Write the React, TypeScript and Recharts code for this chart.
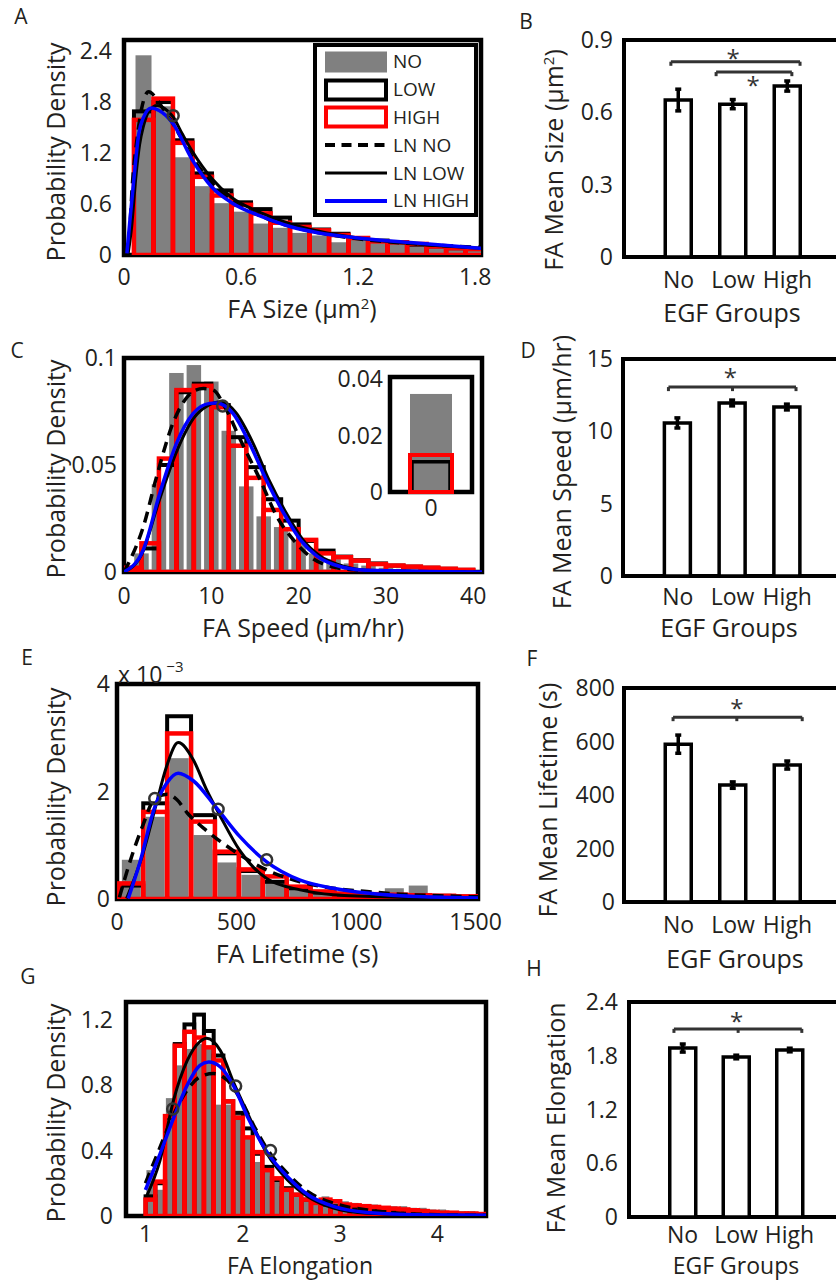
import React from "react";
import {
  ComposedChart,
  Bar,
  Line,
  Scatter,
  XAxis,
  YAxis,
  ReferenceArea,
  ReferenceLine,
  ReferenceDot,
  ErrorBar,
} from "recharts";

const FONT = "'Open Sans', 'Noto Sans', sans-serif";
const INK = "#231f20";
const GRAY = "#808080";
const RED = "#ff0000";
const BLUE = "#0000ff";
const RING = "#333333";

// ---------- A: FA size (µm²), bins of 0.1 ----------
const aBins = [0.1, 0.2, 0.3, 0.4, 0.5, 0.6, 0.7, 0.8, 0.9, 1.0, 1.1, 1.2, 1.3, 1.4, 1.5, 1.6, 1.7, 1.8];
const aNo = [2.35, 1.75, 1.15, 0.81, 0.61, 0.51, 0.37, 0.32, 0.26, 0.23, 0.15, 0.18, 0.14, 0.13, 0.1, 0.08, 0.07, 0.06];
const aLow = [1.69, 1.8, 1.35, 0.96, 0.76, 0.62, 0.54, 0.44, 0.36, 0.3, 0.25, 0.2, 0.17, 0.15, 0.12, 0.1, 0.08, 0.07];
const aHigh = [1.59, 1.84, 1.32, 0.92, 0.7, 0.59, 0.49, 0.38, 0.33, 0.29, 0.235, 0.2, 0.16, 0.15, 0.13, 0.1, 0.08, 0.07];
const aLnNoX = [0.012, 0.026, 0.043, 0.068, 0.09, 0.126, 0.16, 0.2, 0.25, 0.3, 0.35, 0.45, 0.55, 0.7, 0.85, 1.0, 1.2, 1.5, 1.83];
const aLnNoY = [0, 0.18, 0.84, 1.39, 1.72, 1.92, 1.86, 1.72, 1.55, 1.35, 1.15, 0.85, 0.64, 0.46, 0.34, 0.26, 0.19, 0.13, 0.09];
const aLnLowX = [0.02, 0.04, 0.06, 0.08, 0.1, 0.13, 0.17, 0.21, 0.25, 0.3, 0.35, 0.45, 0.55, 0.7, 0.85, 1.0, 1.2, 1.5, 1.83];
const aLnLowY = [0, 0.35, 0.9, 1.3, 1.52, 1.7, 1.76, 1.72, 1.63, 1.42, 1.22, 0.9, 0.68, 0.5, 0.37, 0.28, 0.2, 0.13, 0.08];
const aLnHighX = [0.015, 0.03, 0.05, 0.076, 0.1, 0.14, 0.18, 0.25, 0.35, 0.45, 0.556, 0.71, 0.86, 1.0, 1.2, 1.5, 1.83];
const aLnHighY = [0.02, 0.4, 0.88, 1.43, 1.62, 1.73, 1.7, 1.55, 1.12, 0.8, 0.61, 0.45, 0.33, 0.26, 0.2, 0.14, 0.08];
const aRingX = [0.252];
const aRingY = [1.64];

// ---------- C: FA speed (µm/hr), bins of 2 ----------
const cBinsEven = [2, 4, 6, 8, 10, 12, 14, 16, 18, 20, 22, 24, 26, 28, 30, 32, 34, 36, 38, 40];
const cNo = [0.0087, 0.041, 0.093, 0.0967, 0.089, 0.066, 0.04, 0.026, 0.021, 0.015, 0.0087, 0.006, 0.004, 0.003, 0.002, 0.0015, 0.001, 0.001, 0.0008, 0.0005];
const cBinsOdd = [1, 3, 5, 7, 9, 11, 13, 15, 17, 19, 21, 23, 25, 27, 29, 31, 33, 35, 37, 39];
const cLow = [0.001, 0.011, 0.05, 0.084, 0.088, 0.078, 0.063, 0.049, 0.034, 0.024, 0.0145, 0.01, 0.0072, 0.0055, 0.004, 0.003, 0.0025, 0.002, 0.0015, 0.001];
const cHigh = [0.002, 0.0134, 0.053, 0.085, 0.087, 0.077, 0.059, 0.044, 0.029, 0.02, 0.015, 0.0087, 0.0069, 0.0053, 0.0037, 0.003, 0.0025, 0.002, 0.0015, 0.001];
const cLnNoX = [0, 0.7, 2.2, 3.7, 5.6, 7.1, 8.2, 9.1, 10.2, 11.7, 13.3, 15.6, 17.5, 19.4, 21.7, 24, 26.3, 30, 41];
const cLnNoY = [0, 0.0056, 0.021, 0.044, 0.0695, 0.0811, 0.085, 0.0857, 0.085, 0.076, 0.062, 0.043, 0.026, 0.015, 0.0061, 0.0023, 0.001, 0.0002, 0];
const cLnLowX = [0, 2, 4, 6, 8, 9.5, 11.2, 12.8, 14.8, 16.6, 18.6, 20.5, 22.5, 24.5, 28, 41];
const cLnLowY = [0, 0.008, 0.033, 0.056, 0.072, 0.0775, 0.0795, 0.0745, 0.06, 0.043, 0.0274, 0.015, 0.0074, 0.0035, 0.0008, 0];
const cLnHighX = [0, 2.2, 4.1, 6.0, 7.9, 9.8, 10.6, 12.5, 14.4, 16.3, 18.3, 20.2, 22.1, 24, 27.8, 41];
const cLnHighY = [0, 0.0103, 0.0368, 0.06, 0.074, 0.0788, 0.079, 0.074, 0.06, 0.043, 0.0274, 0.015, 0.0074, 0.0035, 0.0008, 0];
const cRingX = [11.3];
const cRingY = [0.0776];
// inset: speed = 0
const insetBin = [0];
const insetNo = [0.0347];
const insetLow = [0.0107];
const insetHigh = [0.0131];

// ---------- E: FA lifetime (s), bins of 100, density x 10^-3 ----------
const eBins = [60, 160, 260, 360, 460, 560, 660, 760, 860, 960, 1060, 1160, 1260, 1360, 1460];
const eNo = [0.73, 1.53, 2.62, 1.19, 0.68, 0.45, 0.32, 0.2, 0.17, 0.14, 0.12, 0.2, 0.25, 0.1, 0.07];
const eLow = [0.25, 1.78, 3.4, 1.56, 0.85, 0.52, 0.32, 0.2, 0.12, 0.08, 0.07, 0.06, 0.05, 0.04, 0.03];
const eHigh = [0.29, 1.62, 3.08, 1.44, 0.88, 0.55, 0.42, 0.23, 0.14, 0.1, 0.09, 0.08, 0.07, 0.06, 0.05];
const eLnNoX = [10, 62, 109, 158, 210, 250, 294, 375, 484, 626, 766, 905, 1045, 1185, 1350, 1510];
const eLnNoY = [0.03, 0.8, 1.38, 1.87, 1.95, 1.85, 1.6, 1.27, 0.91, 0.54, 0.32, 0.2, 0.14, 0.09, 0.06, 0.04];
const eLnLowX = [40, 109, 165, 207, 256, 319, 375, 431, 514, 626, 766, 905, 1200, 1510];
const eLnLowY = [0.01, 0.85, 1.78, 2.46, 2.91, 2.59, 2.03, 1.55, 0.9, 0.38, 0.17, 0.08, 0.03, 0.01];
const eLnHighX = [47, 95, 158, 207, 256, 319, 417, 514, 626, 766, 905, 1045, 1185, 1510];
const eLnHighY = [0.01, 0.67, 1.71, 2.15, 2.34, 2.2, 1.69, 1.16, 0.69, 0.35, 0.2, 0.11, 0.06, 0.02];
const eRingX = [158, 423, 626];
const eRingY = [1.87, 1.67, 0.73];

// ---------- G: FA elongation, bins of 0.1 ----------
const gBins = [1.05, 1.15, 1.25, 1.35, 1.45, 1.55, 1.65, 1.75, 1.85, 1.95, 2.05, 2.15, 2.25, 2.35, 2.45, 2.55, 2.65, 2.75, 2.85, 2.95, 3.05, 3.15, 3.25, 3.35, 3.45, 3.55, 3.65, 3.75, 3.85, 3.95, 4.05, 4.15, 4.25, 4.35, 4.45];
const gNo = [0.28, 0.16, 0.72, 0.92, 1.02, 1.05, 1.03, 0.68, 0.68, 0.62, 0.49, 0.33, 0.27, 0.22, 0.17, 0.13, 0.11, 0.09, 0.12, 0.1, 0.09, 0.08, 0.07, 0.07, 0.06, 0.06, 0.06, 0.05, 0.05, 0.04, 0.04, 0.03, 0.03, 0.03, 0.02];
const gLow = [0.12, 0.2, 0.6, 1.05, 1.17, 1.23, 1.13, 0.98, 0.7, 0.63, 0.535, 0.38, 0.3, 0.22, 0.17, 0.13, 0.1, 0.08, 0.07, 0.06, 0.05, 0.045, 0.04, 0.035, 0.03, 0.025, 0.02, 0.02, 0.015, 0.015, 0.01, 0.01, 0.01, 0.008, 0.006];
const gHigh = [0.1, 0.21, 0.61, 1.04, 1.125, 1.09, 1.03, 0.95, 0.7, 0.6, 0.48, 0.39, 0.28, 0.23, 0.16, 0.13, 0.1, 0.08, 0.1, 0.09, 0.07, 0.065, 0.06, 0.055, 0.05, 0.045, 0.04, 0.035, 0.03, 0.025, 0.02, 0.02, 0.015, 0.015, 0.012];
const gLnNoX = [1.0, 1.15, 1.29, 1.43, 1.56, 1.7, 1.84, 1.98, 2.12, 2.25, 2.46, 2.67, 2.94, 3.28, 3.63, 4.0, 4.5];
const gLnNoY = [0.2, 0.42, 0.62, 0.77, 0.85, 0.87, 0.83, 0.71, 0.545, 0.41, 0.26, 0.148, 0.077, 0.037, 0.016, 0.008, 0.004];
const gLnLowX = [1.01, 1.15, 1.29, 1.43, 1.56, 1.63, 1.77, 1.91, 2.05, 2.25, 2.46, 2.67, 2.94, 3.28, 3.97, 4.5];
const gLnLowY = [0.118, 0.34, 0.71, 0.95, 1.065, 1.085, 1.01, 0.81, 0.627, 0.38, 0.22, 0.118, 0.047, 0.017, 0.006, 0.004];
const gLnHighX = [1.0, 1.15, 1.29, 1.43, 1.56, 1.65, 1.77, 1.91, 2.05, 2.25, 2.46, 2.67, 2.94, 3.28, 3.97, 4.5];
const gLnHighY = [0.16, 0.38, 0.6, 0.8, 0.92, 0.94, 0.91, 0.79, 0.605, 0.39, 0.24, 0.13, 0.057, 0.022, 0.006, 0.004];
const gRingX = [1.28, 1.927, 2.285];
const gRingY = [0.653, 0.794, 0.4];

// ---------- B/D/F/H: means per EGF group ----------
const egfGroups = ["No", "Low", "High"];
const egfX = [1, 2, 3];
const sizeMean = [0.651, 0.634, 0.709];
const sizeErr = [0.045, 0.019, 0.021];
const speedMean = [10.58, 11.96, 11.68];
const speedErr = [0.35, 0.2, 0.2];
const lifeMean = [590, 437, 512];
const lifeErr = [34, 12, 15];
const elongMean = [1.886, 1.786, 1.864];
const elongErr = [0.045, 0.02, 0.02];
// significance brackets: [from, to, height, middle tick (or null)] and stars [x, y]
const sizeBrackets: [number, number, number, number | null][] = [[0.86, 3.23, 0.81, null], [1.69, 3.08, 0.767, null]];
const sizeStars = [[2.0, 0.825], [2.37, 0.713]];
const speedBrackets: [number, number, number, number | null][] = [[0.83, 3.16, 13.06, 2.0]];
const speedStars = [[1.96, 13.69]];
const lifeBrackets: [number, number, number, number | null][] = [[0.9, 3.27, 691, 2.07]];
const lifeStars = [[2.07, 725]];
const elongBrackets: [number, number, number, number | null][] = [[0.84, 3.23, 2.1, 2.04]];
const elongStars = [[2.01, 2.18]];

const legendNames = ["NO", "LOW", "HIGH", "LN NO", "LN LOW", "LN HIGH"];

type Box = { x1: number; y1: number; x2: number; y2: number };
type Pt = { x: number; y: number };

const pts = (xs: number[], ys: number[]): Pt[] => xs.map((x, i) => ({ x, y: ys[i] }));
const tickStyle = { fontSize: 23, fill: INK, fontFamily: FONT };

// bar drawn centred on its bin with a fixed pixel width
function binShape(w: number, fill: string, stroke: string, sw: number) {
  return (p: any) => {
    if (!(p.height > 0)) return <g />;
    const cx = p.x + p.width / 2;
    return <rect x={cx - w / 2} y={p.y} width={w} height={p.height} fill={fill} stroke={stroke} strokeWidth={sw} />;
  };
}

const ring = (p: any) => <circle cx={p.cx} cy={p.cy} r={5.5} fill="none" stroke={RING} strokeWidth={2.5} />;

function Hist(props: {
  box: Box;
  yGap: number;
  xGap: number;
  xDomain: [number, number];
  xTicks: number[];
  yDomain: [number, number];
  yTicks: number[];
  rows: any[];
  bin: number;
  grayW: number;
  noFit: Pt[];
  lowFit: Pt[];
  highFit: Pt[];
  rings: Pt[];
}) {
  const { box, yGap, xGap, xDomain, xTicks, yDomain, yTicks, rows, bin, grayW, noFit, lowFit, highFit, rings } = props;
  const padL = 70, padT = 22, padR = 34, padB = 46;
  const plotW = box.x2 - box.x1;
  const binW = (bin * plotW) / (xDomain[1] - xDomain[0]);
  return (
    <div style={{ position: "absolute", left: box.x1 - padL, top: box.y1 - padT }}>
      <ComposedChart
        width={plotW + padL + padR}
        height={box.y2 - box.y1 + padT + padB}
        data={rows}
        margin={{ top: padT, right: padR, bottom: 0, left: 0 }}
      >
        <XAxis xAxisId="no" type="number" dataKey="x" domain={xDomain} allowDataOverflow ticks={xTicks} interval={0}
          height={padB} tickLine={false} axisLine={false} tickSize={0} tickMargin={xGap} tick={tickStyle} />
        <XAxis xAxisId="low" type="number" dataKey="x" domain={xDomain} allowDataOverflow hide height={0} />
        <XAxis xAxisId="high" type="number" dataKey="x" domain={xDomain} allowDataOverflow hide height={0} />
        <YAxis type="number" domain={yDomain} allowDataOverflow ticks={yTicks} interval={0} width={padL}
          tickLine={false} axisLine={false} tickSize={0} tickMargin={yGap} tick={tickStyle} />
        <Bar xAxisId="no" dataKey="no" isAnimationActive={false} shape={binShape(grayW, GRAY, "none", 0)} />
        <Bar xAxisId="low" dataKey="low" isAnimationActive={false} shape={binShape(binW, "none", "#000", 4)} />
        <Bar xAxisId="high" dataKey="high" isAnimationActive={false} shape={binShape(binW, "none", RED, 4.5)} />
        <Line xAxisId="no" data={noFit} dataKey="y" type="monotone" stroke="#000" strokeWidth={3.5}
          strokeDasharray="11 7" dot={false} isAnimationActive={false} />
        <Line xAxisId="no" data={lowFit} dataKey="y" type="monotone" stroke="#000" strokeWidth={3}
          dot={false} isAnimationActive={false} />
        <Line xAxisId="no" data={highFit} dataKey="y" type="monotone" stroke={BLUE} strokeWidth={3.5}
          dot={false} isAnimationActive={false} />
        <Scatter xAxisId="no" data={rings} dataKey="y" isAnimationActive={false} shape={ring} />
        <ReferenceArea xAxisId="no" x1={xDomain[0]} x2={xDomain[1]} y1={yDomain[0]} y2={yDomain[1]}
          fill="none" stroke="#000" strokeWidth={4.5} />
      </ComposedChart>
    </div>
  );
}

function MeanBars(props: {
  box: Box;
  yGap: number;
  xGap: number;
  yDomain: [number, number];
  yTicks: number[];
  means: number[];
  errs: number[];
  brackets: [number, number, number, number | null][];
  stars: number[][];
  tickLen: number;
}) {
  const { box, yGap, xGap, yDomain, yTicks, means, errs, brackets, stars, tickLen } = props;
  const padL = 70, padT = 22, padR = 6, padB = 46;
  const rows = egfX.map((x, i) => ({ x, mean: means[i], err: errs[i] }));
  const segs: { a: Pt; b: Pt }[] = [];
  brackets.forEach(([x1, x2, y, mid]) => {
    segs.push({ a: { x: x1, y }, b: { x: x2, y } });
    segs.push({ a: { x: x1, y }, b: { x: x1, y: y - tickLen } });
    segs.push({ a: { x: x2, y }, b: { x: x2, y: y - tickLen } });
    if (mid !== null) segs.push({ a: { x: mid, y }, b: { x: mid, y: y - tickLen } });
  });
  return (
    <div style={{ position: "absolute", left: box.x1 - padL, top: box.y1 - padT }}>
      <ComposedChart
        width={box.x2 - box.x1 + padL + padR}
        height={box.y2 - box.y1 + padT + padB}
        data={rows}
        margin={{ top: padT, right: padR, bottom: 0, left: 0 }}
      >
        <XAxis type="number" dataKey="x" domain={[0, 4]} ticks={egfX} interval={0}
          tickFormatter={(v: number) => egfGroups[v - 1]} height={padB} tickLine={false} axisLine={false}
          tickSize={0} tickMargin={xGap} tick={tickStyle} />
        <YAxis type="number" domain={yDomain} ticks={yTicks} interval={0} width={padL} tickLine={false}
          axisLine={false} tickSize={0} tickMargin={yGap} tick={tickStyle} />
        <Bar dataKey="mean" barSize={26} fill="#fff" stroke="#000" strokeWidth={3.5} isAnimationActive={false}>
          <ErrorBar dataKey="err" width={3} strokeWidth={3.5} stroke="#000" direction="y" />
        </Bar>
        {segs.map((s, i) => (
          <ReferenceLine key={i} segment={[s.a, s.b]} stroke={RING} strokeWidth={3} ifOverflow="visible" />
        ))}
        {stars.map(([x, y], i) => (
          <ReferenceDot key={"s" + i} x={x} y={y} r={0} fill="none" stroke="none" ifOverflow="visible"
            label={{ value: "*", position: "center", fontSize: 24, fill: RING, fontFamily: FONT }} />
        ))}
        <ReferenceArea x1={0} x2={4} y1={yDomain[0]} y2={yDomain[1]} fill="none" stroke="#000" strokeWidth={4} />
      </ComposedChart>
    </div>
  );
}

function Inset() {
  const box = { x1: 390, y1: 377, x2: 472, y2: 492 };
  const padL = 60, padT = 18, padR = 6, padB = 36;
  const rows = insetBin.map((x, i) => ({ x, no: insetNo[i], low: insetLow[i], high: insetHigh[i] }));
  const dom: [number, number] = [-1, 1];
  return (
    <div style={{ position: "absolute", left: box.x1 - padL, top: box.y1 - padT }}>
      <ComposedChart width={box.x2 - box.x1 + padL + padR} height={box.y2 - box.y1 + padT + padB} data={rows}
        margin={{ top: padT, right: padR, bottom: 0, left: 0 }}>
        <XAxis xAxisId="no" type="number" dataKey="x" domain={dom} ticks={insetBin} interval={0} height={padB}
          tickLine={false} axisLine={false} tickSize={0} tickMargin={8} tick={tickStyle} />
        <XAxis xAxisId="low" type="number" dataKey="x" domain={dom} hide height={0} />
        <XAxis xAxisId="high" type="number" dataKey="x" domain={dom} hide height={0} />
        <YAxis type="number" domain={[0, 0.0407]} ticks={[0, 0.02, 0.04]} interval={0} width={padL}
          tickLine={false} axisLine={false} tickSize={0} tickMargin={7} tick={tickStyle} />
        <Bar xAxisId="no" dataKey="no" isAnimationActive={false} shape={binShape(42, GRAY, "none", 0)} />
        <Bar xAxisId="low" dataKey="low" isAnimationActive={false} shape={binShape(38, "none", "#000", 3.5)} />
        <Bar xAxisId="high" dataKey="high" isAnimationActive={false} shape={binShape(42, "none", RED, 4)} />
        <ReferenceArea xAxisId="no" x1={-1} x2={1} y1={0} y2={0.0407} fill="none" stroke="#000" strokeWidth={4.5} />
      </ComposedChart>
    </div>
  );
}

function LegendA() {
  const swatch = (i: number) => {
    if (i === 0) return <rect x={1} y={1.5} width={62} height={21} fill={GRAY} />;
    if (i === 1) return <rect x={2} y={2.5} width={60} height={19} fill="none" stroke="#000" strokeWidth={4} />;
    if (i === 2) return <rect x={2} y={2.5} width={60} height={19} fill="none" stroke={RED} strokeWidth={4} />;
    if (i === 3) return <line x1={1} x2={63} y1={12} y2={12} stroke="#000" strokeWidth={4} strokeDasharray="10 6.5" />;
    if (i === 4) return <line x1={1} x2={63} y1={12} y2={12} stroke="#000" strokeWidth={3} />;
    return <line x1={1} x2={63} y1={12} y2={12} stroke={BLUE} strokeWidth={4} />;
  };
  return (
    <div style={{ position: "absolute", left: 313, top: 43, width: 165, height: 174, boxSizing: "border-box",
      border: "4px solid #000", background: "#fff" }}>
      {legendNames.map((n, i) => (
        <div key={n} style={{ position: "absolute", left: 7, top: 1 + i * 27.8, height: 27.8, display: "flex",
          alignItems: "center" }}>
          <svg width={64} height={24}>{swatch(i)}</svg>
          <span style={{ marginLeft: 5, fontSize: 19, lineHeight: 1, whiteSpace: "nowrap" }}>{n}</span>
        </div>
      ))}
    </div>
  );
}

function Txt({ x, y, size = 25, rot = false, children }: { x: number; y: number; size?: number; rot?: boolean; children: any }) {
  return (
    <div style={{ position: "absolute", left: x, top: y, transform: `translate(-50%, -50%)${rot ? " rotate(-90deg)" : ""}`,
      fontSize: size, lineHeight: 1, whiteSpace: "nowrap", color: INK, fontFamily: FONT }}>
      {children}
    </div>
  );
}

const sup = (s: string) => <span style={{ fontSize: "0.6em", position: "relative", top: "-0.6em" }}>{s}</span>;

export default function App() {
  const aRows = aBins.map((x, i) => ({ x, no: aNo[i], low: aLow[i], high: aHigh[i] }));
  const cRows = [
    ...cBinsEven.map((x, i) => ({ x, no: cNo[i] })),
    ...cBinsOdd.map((x, i) => ({ x, low: cLow[i], high: cHigh[i] })),
  ].sort((p, q) => p.x - q.x);
  const eRows = eBins.map((x, i) => ({ x, no: eNo[i], low: eLow[i], high: eHigh[i] }));
  const gRows = gBins.map((x, i) => ({ x, no: gNo[i], low: gLow[i], high: gHigh[i] }));

  return (
    <div style={{ position: "absolute", left: 0, top: 0, width: 836, height: 1283, overflow: "hidden",
      background: "#fff", fontFamily: FONT, color: INK }}>
      <Hist box={{ x1: 124, y1: 40, x2: 481, y2: 255 }} yGap={12} xGap={14} xDomain={[0, 1.83]}
        xTicks={[0, 0.6, 1.2, 1.8]} yDomain={[0, 2.53]} yTicks={[0, 0.6, 1.2, 1.8, 2.4]} rows={aRows} bin={0.1}
        grayW={16} noFit={pts(aLnNoX, aLnNoY)} lowFit={pts(aLnLowX, aLnLowY)} highFit={pts(aLnHighX, aLnHighY)}
        rings={pts(aRingX, aRingY)} />
      <LegendA />
      <Hist box={{ x1: 124, y1: 358, x2: 482, y2: 572 }} yGap={7} xGap={16} xDomain={[0, 41]}
        xTicks={[0, 10, 20, 30, 40]} yDomain={[0, 0.1]} yTicks={[0, 0.05, 0.1]} rows={cRows} bin={2}
        grayW={14.5} noFit={pts(cLnNoX, cLnNoY)} lowFit={pts(cLnLowX, cLnLowY)} highFit={pts(cLnHighX, cLnHighY)}
        rings={pts(cRingX, cRingY)} />
      <Inset />
      <Hist box={{ x1: 117, y1: 684, x2: 478, y2: 899 }} yGap={7} xGap={15} xDomain={[0, 1510]}
        xTicks={[0, 500, 1000, 1500]} yDomain={[0, 4]} yTicks={[0, 2, 4]} rows={eRows} bin={100}
        grayW={19} noFit={pts(eLnNoX, eLnNoY)} lowFit={pts(eLnLowX, eLnLowY)} highFit={pts(eLnHighX, eLnHighY)}
        rings={pts(eRingX, eRingY)} />
      <Hist box={{ x1: 126, y1: 1002, x2: 486, y2: 1216 }} yGap={13} xGap={10} xDomain={[0.8, 4.5]}
        xTicks={[1, 2, 3, 4]} yDomain={[0, 1.307]} yTicks={[0, 0.4, 0.8, 1.2]} rows={gRows} bin={0.1}
        grayW={7.8} noFit={pts(gLnNoX, gLnNoY)} lowFit={pts(gLnLowX, gLnLowY)} highFit={pts(gLnHighX, gLnHighY)}
        rings={pts(gRingX, gRingY)} />

      <MeanBars box={{ x1: 624, y1: 40, x2: 842, y2: 257 }} yGap={11} xGap={15} yDomain={[0, 0.9]}
        yTicks={[0, 0.3, 0.6, 0.9]} means={sizeMean} errs={sizeErr} brackets={sizeBrackets} stars={sizeStars} tickLen={0.017} />
      <MeanBars box={{ x1: 623, y1: 359, x2: 842, y2: 576 }} yGap={10} xGap={13} yDomain={[0, 15]}
        yTicks={[0, 5, 10, 15]} means={speedMean} errs={speedErr} brackets={speedBrackets} stars={speedStars} tickLen={0.28} />
      <MeanBars box={{ x1: 624, y1: 688, x2: 842, y2: 902 }} yGap={9} xGap={15} yDomain={[0, 800]}
        yTicks={[0, 200, 400, 600, 800]} means={lifeMean} errs={lifeErr} brackets={lifeBrackets} stars={lifeStars} tickLen={15} />
      <MeanBars box={{ x1: 629, y1: 1002, x2: 843, y2: 1217 }} yGap={11} xGap={10} yDomain={[0, 2.4]}
        yTicks={[0, 0.6, 1.2, 1.8, 2.4]} means={elongMean} errs={elongErr} brackets={elongBrackets} stars={elongStars} tickLen={0.045} />

      {/* panel letters */}
      <Txt x={21} y={16} size={21}>A</Txt>
      <Txt x={526} y={21} size={21}>B</Txt>
      <Txt x={17} y={350} size={21}>C</Txt>
      <Txt x={528} y={350} size={21}>D</Txt>
      <Txt x={27} y={657} size={21}>E</Txt>
      <Txt x={532} y={658} size={21}>F</Txt>
      <Txt x={28} y={976} size={21}>G</Txt>
      <Txt x={534} y={968} size={21}>H</Txt>

      {/* histogram axis titles */}
      <Txt x={55} y={152} rot>Probability Density</Txt>
      <Txt x={55} y={469} rot>Probability Density</Txt>
      <Txt x={55} y={797} rot>Probability Density</Txt>
      <Txt x={55} y={1113} rot>Probability Density</Txt>
      <Txt x={302} y={308}>FA Size (μm{sup("2")})</Txt>
      <Txt x={303} y={627}>FA Speed (μm/hr)</Txt>
      <Txt x={297} y={953}>FA Lifetime (s)</Txt>
      <Txt x={300} y={1265} size={23}>FA Elongation</Txt>
      <div style={{ position: "absolute", left: 118, top: 663, fontSize: 23, lineHeight: 1, whiteSpace: "nowrap" }}>
        x 10<span style={{ fontSize: 15, position: "relative", top: -11, marginLeft: 4 }}>−3</span>
      </div>

      {/* bar panel axis titles */}
      <Txt x={553} y={160} rot>FA Mean Size (μm{sup("2")})</Txt>
      <Txt x={561} y={472} rot>FA Mean Speed (μm/hr)</Txt>
      <Txt x={547} y={800} rot>FA Mean Lifetime (s)</Txt>
      <Txt x={555} y={1118} rot>FA Mean Elongation</Txt>
      <Txt x={732} y={312}>EGF Groups</Txt>
      <Txt x={729} y={627}>EGF Groups</Txt>
      <Txt x={735} y={958}>EGF Groups</Txt>
      <Txt x={736} y={1265} size={23}>EGF Groups</Txt>
    </div>
  );
}
